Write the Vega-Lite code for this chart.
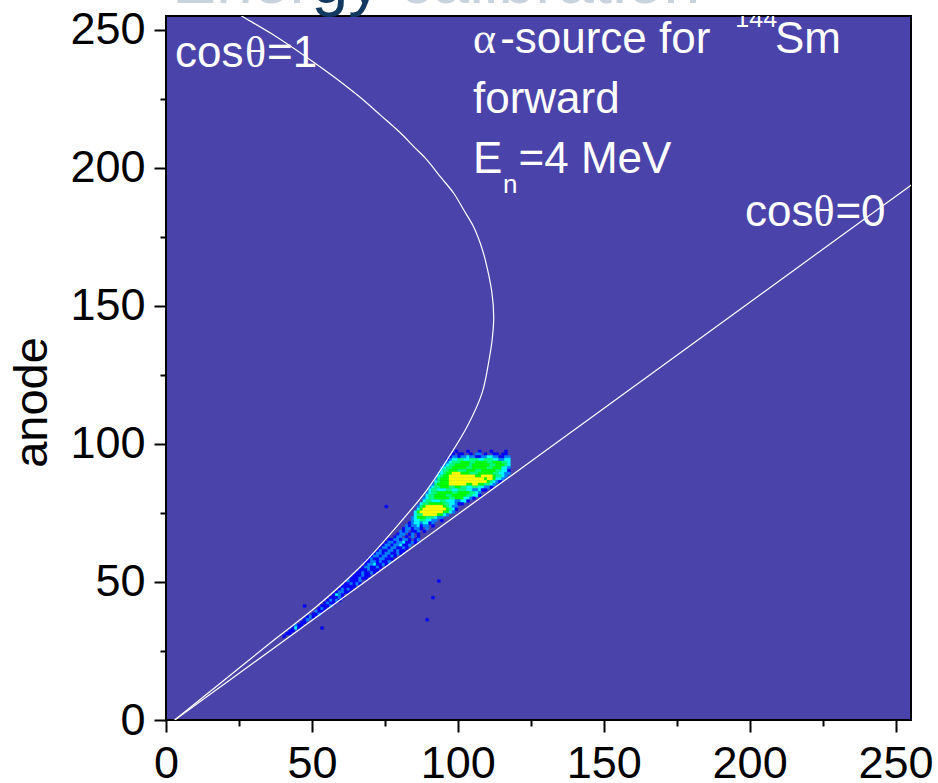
{
  "$schema": "https://vega.github.io/schema/vega-lite/v6.json",
  "width": 745,
  "height": 704,
  "autosize": "none",
  "padding": {"left": 166, "top": 16, "right": 27, "bottom": 63},
  "background": "white",
  "config": {
    "view": {"fill": "#4A43A9", "stroke": "#000000", "strokeWidth": 2},
    "font": "Liberation Sans"
  },
  "datasets": {
    "hist": [
      {"x":99,"x2":100,"y":97,"c":1},{"x":103,"x2":104,"y":97,"c":1},{"x":107,"x2":108,"y":97,"c":1},{"x":111,"x2":112,"y":97,"c":1},{"x":116,"x2":117,"y":97,"c":1},
      {"x":98,"x2":99,"y":96,"c":1},{"x":100,"x2":102,"y":96,"c":1},{"x":104,"x2":105,"y":96,"c":1},{"x":106,"x2":108,"y":96,"c":2},{"x":109,"x2":110,"y":96,"c":1},{"x":112,"x2":114,"y":96,"c":1},{"x":115,"x2":117,"y":96,"c":1},
      {"x":97,"x2":98,"y":95,"c":1},{"x":98,"x2":100,"y":95,"c":2},{"x":100,"x2":101,"y":95,"c":1},{"x":101,"x2":103,"y":95,"c":2},{"x":103,"x2":104,"y":95,"c":3},{"x":104,"x2":106,"y":95,"c":2},{"x":106,"x2":108,"y":95,"c":1},{"x":108,"x2":110,"y":95,"c":2},{"x":110,"x2":112,"y":95,"c":3},{"x":112,"x2":114,"y":95,"c":2},{"x":114,"x2":116,"y":95,"c":1},{"x":116,"x2":118,"y":95,"c":2},
      {"x":96,"x2":97,"y":94,"c":1},{"x":97,"x2":98,"y":94,"c":2},{"x":98,"x2":100,"y":94,"c":3},{"x":100,"x2":102,"y":94,"c":4},{"x":102,"x2":104,"y":94,"c":3},{"x":104,"x2":107,"y":94,"c":4},{"x":107,"x2":109,"y":94,"c":3},{"x":109,"x2":112,"y":94,"c":4},{"x":112,"x2":114,"y":94,"c":3},{"x":114,"x2":116,"y":94,"c":2},{"x":116,"x2":118,"y":94,"c":3},
      {"x":96,"x2":97,"y":93,"c":2},{"x":97,"x2":98,"y":93,"c":3},{"x":98,"x2":101,"y":93,"c":4},{"x":101,"x2":104,"y":93,"c":5},{"x":104,"x2":106,"y":93,"c":4},{"x":106,"x2":110,"y":93,"c":5},{"x":110,"x2":112,"y":93,"c":4},{"x":112,"x2":115,"y":93,"c":5},{"x":115,"x2":117,"y":93,"c":4},{"x":117,"x2":118,"y":93,"c":3},
      {"x":95,"x2":96,"y":92,"c":2},{"x":96,"x2":97,"y":92,"c":3},{"x":97,"x2":99,"y":92,"c":4},{"x":99,"x2":104,"y":92,"c":5},{"x":104,"x2":105,"y":92,"c":4},{"x":105,"x2":111,"y":92,"c":5},{"x":111,"x2":113,"y":92,"c":4},{"x":113,"x2":116,"y":92,"c":5},{"x":116,"x2":117,"y":92,"c":4},{"x":117,"x2":118,"y":92,"c":3},
      {"x":94,"x2":95,"y":91,"c":2},{"x":95,"x2":96,"y":91,"c":3},{"x":96,"x2":98,"y":91,"c":4},{"x":98,"x2":103,"y":91,"c":5},{"x":103,"x2":105,"y":91,"c":4},{"x":105,"x2":110,"y":91,"c":5},{"x":110,"x2":112,"y":91,"c":4},{"x":112,"x2":115,"y":91,"c":5},{"x":115,"x2":117,"y":91,"c":3},{"x":117,"x2":118,"y":91,"c":2},
      {"x":94,"x2":95,"y":90,"c":3},{"x":95,"x2":97,"y":90,"c":4},{"x":97,"x2":100,"y":90,"c":5},{"x":100,"x2":103,"y":90,"c":4},{"x":103,"x2":106,"y":90,"c":5},{"x":106,"x2":108,"y":90,"c":4},{"x":108,"x2":113,"y":90,"c":5},{"x":113,"x2":115,"y":90,"c":4},{"x":115,"x2":117,"y":90,"c":3},{"x":117,"x2":118,"y":90,"c":1},
      {"x":93,"x2":94,"y":89,"c":2},{"x":94,"x2":95,"y":89,"c":3},{"x":95,"x2":96,"y":89,"c":4},{"x":96,"x2":98,"y":89,"c":5},{"x":98,"x2":101,"y":89,"c":6},{"x":101,"x2":104,"y":89,"c":5},{"x":104,"x2":107,"y":89,"c":4},{"x":107,"x2":112,"y":89,"c":5},{"x":112,"x2":114,"y":89,"c":4},{"x":114,"x2":116,"y":89,"c":3},{"x":116,"x2":118,"y":89,"c":2},
      {"x":93,"x2":94,"y":88,"c":3},{"x":94,"x2":95,"y":88,"c":4},{"x":95,"x2":97,"y":88,"c":5},{"x":97,"x2":106,"y":88,"c":6},{"x":106,"x2":108,"y":88,"c":5},{"x":108,"x2":112,"y":88,"c":6},{"x":112,"x2":113,"y":88,"c":5},{"x":113,"x2":115,"y":88,"c":4},{"x":115,"x2":116,"y":88,"c":3},{"x":116,"x2":117,"y":88,"c":2},
      {"x":92,"x2":93,"y":87,"c":2},{"x":93,"x2":94,"y":87,"c":4},{"x":94,"x2":97,"y":87,"c":5},{"x":97,"x2":109,"y":87,"c":6},{"x":109,"x2":110,"y":87,"c":5},{"x":110,"x2":112,"y":87,"c":6},{"x":112,"x2":113,"y":87,"c":5},{"x":113,"x2":115,"y":87,"c":3},{"x":115,"x2":116,"y":87,"c":2},
      {"x":92,"x2":93,"y":86,"c":3},{"x":93,"x2":94,"y":86,"c":4},{"x":94,"x2":97,"y":86,"c":5},{"x":97,"x2":110,"y":86,"c":6},{"x":110,"x2":111,"y":86,"c":5},{"x":111,"x2":112,"y":86,"c":4},{"x":112,"x2":113,"y":86,"c":3},{"x":113,"x2":114,"y":86,"c":2},{"x":114,"x2":115,"y":86,"c":1},
      {"x":91,"x2":92,"y":85,"c":2},{"x":92,"x2":93,"y":85,"c":4},{"x":93,"x2":97,"y":85,"c":5},{"x":97,"x2":103,"y":85,"c":6},{"x":103,"x2":105,"y":85,"c":5},{"x":105,"x2":107,"y":85,"c":6},{"x":107,"x2":109,"y":85,"c":5},{"x":109,"x2":111,"y":85,"c":4},{"x":111,"x2":112,"y":85,"c":3},{"x":112,"x2":113,"y":85,"c":2},
      {"x":90,"x2":91,"y":84,"c":2},{"x":91,"x2":92,"y":84,"c":3},{"x":92,"x2":94,"y":84,"c":4},{"x":94,"x2":97,"y":84,"c":5},{"x":97,"x2":99,"y":84,"c":4},{"x":99,"x2":101,"y":84,"c":5},{"x":101,"x2":103,"y":84,"c":4},{"x":103,"x2":105,"y":84,"c":3},{"x":105,"x2":107,"y":84,"c":4},{"x":107,"x2":109,"y":84,"c":3},{"x":109,"x2":111,"y":84,"c":2},{"x":111,"x2":112,"y":84,"c":1},
      {"x":90,"x2":91,"y":83,"c":3},{"x":91,"x2":93,"y":83,"c":4},{"x":93,"x2":96,"y":83,"c":3},{"x":96,"x2":98,"y":83,"c":4},{"x":98,"x2":100,"y":83,"c":3},{"x":100,"x2":103,"y":83,"c":4},{"x":103,"x2":105,"y":83,"c":3},{"x":105,"x2":107,"y":83,"c":2},{"x":107,"x2":108,"y":83,"c":3},{"x":108,"x2":110,"y":83,"c":1},
      {"x":89,"x2":90,"y":82,"c":2},{"x":90,"x2":91,"y":82,"c":3},{"x":91,"x2":93,"y":82,"c":4},{"x":93,"x2":98,"y":82,"c":5},{"x":98,"x2":100,"y":82,"c":4},{"x":100,"x2":104,"y":82,"c":5},{"x":104,"x2":106,"y":82,"c":4},{"x":106,"x2":107,"y":82,"c":3},{"x":107,"x2":108,"y":82,"c":2},
      {"x":89,"x2":90,"y":81,"c":3},{"x":90,"x2":92,"y":81,"c":4},{"x":92,"x2":96,"y":81,"c":5},{"x":96,"x2":98,"y":81,"c":4},{"x":98,"x2":103,"y":81,"c":5},{"x":103,"x2":105,"y":81,"c":4},{"x":105,"x2":107,"y":81,"c":3},{"x":107,"x2":108,"y":81,"c":1},
      {"x":88,"x2":89,"y":80,"c":2},{"x":89,"x2":90,"y":80,"c":3},{"x":90,"x2":92,"y":80,"c":4},{"x":92,"x2":97,"y":80,"c":5},{"x":97,"x2":99,"y":80,"c":4},{"x":99,"x2":102,"y":80,"c":5},{"x":102,"x2":104,"y":80,"c":3},{"x":104,"x2":105,"y":80,"c":2},{"x":105,"x2":106,"y":80,"c":1},
      {"x":88,"x2":89,"y":79,"c":3},{"x":89,"x2":91,"y":79,"c":4},{"x":91,"x2":94,"y":79,"c":3},{"x":94,"x2":96,"y":79,"c":4},{"x":96,"x2":99,"y":79,"c":3},{"x":99,"x2":101,"y":79,"c":2},{"x":101,"x2":103,"y":79,"c":3},{"x":103,"x2":104,"y":79,"c":1},
      {"x":87,"x2":88,"y":78,"c":3},{"x":88,"x2":90,"y":78,"c":4},{"x":90,"x2":95,"y":78,"c":5},{"x":95,"x2":97,"y":78,"c":4},{"x":97,"x2":99,"y":78,"c":3},{"x":99,"x2":100,"y":78,"c":2},{"x":100,"x2":102,"y":78,"c":1},
      {"x":86,"x2":87,"y":77,"c":2},{"x":87,"x2":88,"y":77,"c":4},{"x":88,"x2":89,"y":77,"c":5},{"x":89,"x2":95,"y":77,"c":6},{"x":95,"x2":96,"y":77,"c":5},{"x":96,"x2":97,"y":77,"c":4},{"x":97,"x2":98,"y":77,"c":3},{"x":98,"x2":100,"y":77,"c":2},
      {"x":86,"x2":87,"y":76,"c":3},{"x":87,"x2":88,"y":76,"c":5},{"x":88,"x2":96,"y":76,"c":6},{"x":96,"x2":97,"y":76,"c":5},{"x":97,"x2":98,"y":76,"c":4},{"x":98,"x2":99,"y":76,"c":3},{"x":99,"x2":100,"y":76,"c":1},
      {"x":85,"x2":86,"y":75,"c":3},{"x":86,"x2":87,"y":75,"c":5},{"x":87,"x2":95,"y":75,"c":6},{"x":95,"x2":97,"y":75,"c":5},{"x":97,"x2":98,"y":75,"c":3},{"x":98,"x2":99,"y":75,"c":2},
      {"x":85,"x2":86,"y":74,"c":3},{"x":86,"x2":88,"y":74,"c":4},{"x":88,"x2":93,"y":74,"c":6},{"x":93,"x2":95,"y":74,"c":5},{"x":95,"x2":96,"y":74,"c":3},{"x":96,"x2":97,"y":74,"c":2},
      {"x":84,"x2":85,"y":73,"c":2},{"x":85,"x2":86,"y":73,"c":3},{"x":86,"x2":89,"y":73,"c":5},{"x":89,"x2":92,"y":73,"c":4},{"x":92,"x2":93,"y":73,"c":3},{"x":93,"x2":95,"y":73,"c":2},
      {"x":84,"x2":85,"y":72,"c":2},{"x":85,"x2":87,"y":72,"c":3},{"x":87,"x2":89,"y":72,"c":4},{"x":89,"x2":91,"y":72,"c":3},{"x":91,"x2":93,"y":72,"c":2},{"x":94,"x2":95,"y":72,"c":1},
      {"x":83,"x2":84,"y":71,"c":1},{"x":84,"x2":85,"y":71,"c":2},{"x":85,"x2":87,"y":71,"c":3},{"x":87,"x2":88,"y":71,"c":2},{"x":88,"x2":90,"y":71,"c":3},{"x":90,"x2":91,"y":71,"c":1},{"x":91,"x2":92,"y":71,"c":2},
      {"x":82,"x2":83,"y":70,"c":2},{"x":83,"x2":84,"y":70,"c":1},{"x":84,"x2":86,"y":70,"c":2},{"x":86,"x2":87,"y":70,"c":3},{"x":87,"x2":88,"y":70,"c":1},{"x":88,"x2":90,"y":70,"c":2},{"x":91,"x2":92,"y":70,"c":1},
      {"x":81,"x2":82,"y":69,"c":1},{"x":82,"x2":84,"y":69,"c":2},{"x":84,"x2":85,"y":69,"c":1},{"x":85,"x2":87,"y":69,"c":2},{"x":87,"x2":88,"y":69,"c":1},{"x":89,"x2":90,"y":69,"c":2},
      {"x":80,"x2":81,"y":68,"c":2},{"x":81,"x2":82,"y":68,"c":1},{"x":82,"x2":83,"y":68,"c":2},{"x":84,"x2":86,"y":68,"c":1},{"x":86,"x2":87,"y":68,"c":2},{"x":88,"x2":89,"y":68,"c":1},
      {"x":79,"x2":80,"y":67,"c":1},{"x":80,"x2":82,"y":67,"c":2},{"x":83,"x2":84,"y":67,"c":1},{"x":84,"x2":85,"y":67,"c":2},{"x":86,"x2":87,"y":67,"c":1},
      {"x":78,"x2":79,"y":66,"c":1},{"x":79,"x2":81,"y":66,"c":2},{"x":82,"x2":83,"y":66,"c":1},{"x":84,"x2":85,"y":66,"c":2},{"x":86,"x2":87,"y":66,"c":1},
      {"x":76,"x2":78,"y":65,"c":1},{"x":78,"x2":80,"y":65,"c":2},{"x":80,"x2":81,"y":65,"c":1},{"x":81,"x2":83,"y":65,"c":2},{"x":83,"x2":84,"y":65,"c":1},{"x":85,"x2":86,"y":65,"c":1},{"x":86,"x2":87,"y":65,"c":2},
      {"x":75,"x2":76,"y":64,"c":1},{"x":76,"x2":78,"y":64,"c":2},{"x":78,"x2":79,"y":64,"c":1},{"x":79,"x2":81,"y":64,"c":2},{"x":81,"x2":82,"y":64,"c":3},{"x":82,"x2":84,"y":64,"c":1},{"x":84,"x2":85,"y":64,"c":2},{"x":85,"x2":86,"y":64,"c":1},
      {"x":74,"x2":75,"y":63,"c":1},{"x":75,"x2":77,"y":63,"c":2},{"x":77,"x2":78,"y":63,"c":1},{"x":78,"x2":80,"y":63,"c":2},{"x":80,"x2":81,"y":63,"c":3},{"x":81,"x2":83,"y":63,"c":1},{"x":83,"x2":84,"y":63,"c":2},
      {"x":73,"x2":74,"y":62,"c":1},{"x":74,"x2":76,"y":62,"c":2},{"x":76,"x2":77,"y":62,"c":1},{"x":77,"x2":79,"y":62,"c":2},{"x":79,"x2":81,"y":62,"c":1},{"x":81,"x2":82,"y":62,"c":2},{"x":82,"x2":83,"y":62,"c":1},
      {"x":72,"x2":73,"y":61,"c":1},{"x":73,"x2":74,"y":61,"c":2},{"x":74,"x2":76,"y":61,"c":1},{"x":76,"x2":78,"y":61,"c":2},{"x":78,"x2":79,"y":61,"c":1},{"x":79,"x2":80,"y":61,"c":2},{"x":80,"x2":82,"y":61,"c":1},
      {"x":71,"x2":72,"y":60,"c":1},{"x":72,"x2":74,"y":60,"c":2},{"x":74,"x2":75,"y":60,"c":1},{"x":75,"x2":77,"y":60,"c":2},{"x":77,"x2":79,"y":60,"c":1},{"x":79,"x2":80,"y":60,"c":2},{"x":80,"x2":81,"y":60,"c":1},
      {"x":70,"x2":71,"y":59,"c":1},{"x":71,"x2":73,"y":59,"c":2},{"x":73,"x2":74,"y":59,"c":1},{"x":74,"x2":76,"y":59,"c":2},{"x":76,"x2":77,"y":59,"c":1},{"x":77,"x2":78,"y":59,"c":2},{"x":78,"x2":79,"y":59,"c":1},
      {"x":69,"x2":70,"y":58,"c":1},{"x":70,"x2":71,"y":58,"c":2},{"x":71,"x2":73,"y":58,"c":1},{"x":73,"x2":75,"y":58,"c":2},{"x":75,"x2":78,"y":58,"c":1},
      {"x":68,"x2":70,"y":57,"c":1},{"x":70,"x2":72,"y":57,"c":2},{"x":72,"x2":73,"y":57,"c":1},{"x":73,"x2":74,"y":57,"c":2},{"x":74,"x2":76,"y":57,"c":1},{"x":76,"x2":77,"y":57,"c":2},
      {"x":68,"x2":69,"y":56,"c":1},{"x":69,"x2":71,"y":56,"c":2},{"x":71,"x2":72,"y":56,"c":3},{"x":72,"x2":74,"y":56,"c":1},{"x":74,"x2":75,"y":56,"c":2},{"x":75,"x2":76,"y":56,"c":1},
      {"x":67,"x2":68,"y":55,"c":1},{"x":68,"x2":70,"y":55,"c":2},{"x":70,"x2":72,"y":55,"c":1},{"x":72,"x2":73,"y":55,"c":2},{"x":73,"x2":74,"y":55,"c":1},
      {"x":66,"x2":69,"y":54,"c":1},{"x":69,"x2":70,"y":54,"c":2},{"x":70,"x2":73,"y":54,"c":1},
      {"x":65,"x2":67,"y":53,"c":1},{"x":67,"x2":68,"y":53,"c":2},{"x":68,"x2":70,"y":53,"c":1},{"x":70,"x2":71,"y":53,"c":2},{"x":71,"x2":72,"y":53,"c":1},
      {"x":64,"x2":67,"y":52,"c":1},{"x":67,"x2":68,"y":52,"c":2},{"x":68,"x2":70,"y":52,"c":1},
      {"x":63,"x2":66,"y":51,"c":1},{"x":66,"x2":67,"y":51,"c":2},{"x":67,"x2":69,"y":51,"c":1},
      {"x":62,"x2":63,"y":50,"c":2},{"x":63,"x2":66,"y":50,"c":1},{"x":66,"x2":67,"y":50,"c":2},{"x":93,"x2":94,"y":50,"c":1},
      {"x":61,"x2":63,"y":49,"c":1},{"x":63,"x2":64,"y":49,"c":2},{"x":64,"x2":65,"y":49,"c":1},{"x":65,"x2":66,"y":49,"c":2},{"x":66,"x2":67,"y":49,"c":1},
      {"x":60,"x2":65,"y":48,"c":1},
      {"x":59,"x2":60,"y":47,"c":1},{"x":60,"x2":61,"y":47,"c":2},{"x":61,"x2":62,"y":47,"c":1},{"x":62,"x2":63,"y":47,"c":2},{"x":63,"x2":64,"y":47,"c":1},
      {"x":58,"x2":59,"y":46,"c":1},{"x":59,"x2":61,"y":46,"c":2},{"x":61,"x2":63,"y":46,"c":1},
      {"x":57,"x2":58,"y":45,"c":1},{"x":58,"x2":59,"y":45,"c":3},{"x":59,"x2":60,"y":45,"c":2},{"x":60,"x2":61,"y":45,"c":1},
      {"x":56,"x2":59,"y":44,"c":1},{"x":59,"x2":60,"y":44,"c":2},{"x":60,"x2":61,"y":44,"c":1},{"x":91,"x2":92,"y":44,"c":1},
      {"x":55,"x2":56,"y":43,"c":1},{"x":56,"x2":57,"y":43,"c":2},{"x":57,"x2":58,"y":43,"c":1},{"x":58,"x2":59,"y":43,"c":2},{"x":59,"x2":60,"y":43,"c":1},
      {"x":54,"x2":55,"y":42,"c":1},{"x":55,"x2":56,"y":42,"c":2},{"x":56,"x2":58,"y":42,"c":1},
      {"x":53,"x2":56,"y":41,"c":1},{"x":56,"x2":57,"y":41,"c":2},{"x":47,"x2":48,"y":41,"c":1},
      {"x":52,"x2":53,"y":40,"c":1},{"x":53,"x2":54,"y":40,"c":2},{"x":54,"x2":55,"y":40,"c":1},
      {"x":51,"x2":52,"y":39,"c":2},{"x":52,"x2":54,"y":39,"c":1},
      {"x":50,"x2":52,"y":38,"c":1},{"x":52,"x2":53,"y":38,"c":2},
      {"x":48,"x2":49,"y":37,"c":1},{"x":49,"x2":50,"y":37,"c":2},{"x":50,"x2":51,"y":37,"c":1},
      {"x":47,"x2":48,"y":36,"c":1},{"x":48,"x2":49,"y":36,"c":2},{"x":89,"x2":90,"y":36,"c":1},
      {"x":46,"x2":48,"y":35,"c":1},
      {"x":44,"x2":45,"y":34,"c":2},{"x":45,"x2":47,"y":34,"c":1},
      {"x":43,"x2":44,"y":33,"c":1},{"x":44,"x2":45,"y":33,"c":3},{"x":45,"x2":46,"y":33,"c":1},{"x":53,"x2":54,"y":33,"c":1},
      {"x":42,"x2":44,"y":32,"c":1},
      {"x":41,"x2":43,"y":31,"c":1},
      {"x":40,"x2":41,"y":30,"c":1},
      {"x":75,"x2":76,"y":77,"c":1}
    ],
    "guides": [
      {"g":"cos1","x":24.0,"y":256.2},{"g":"cos1","x":27.2,"y":254.2},{"g":"cos1","x":35.8,"y":248.8},{"g":"cos1","x":49.5,"y":239.1},
      {"g":"cos1","x":57.4,"y":233.1},{"g":"cos1","x":66.0,"y":226.0},{"g":"cos1","x":73.4,"y":219.2},{"g":"cos1","x":80.3,"y":212.7},
      {"g":"cos1","x":84.9,"y":207.7},{"g":"cos1","x":89.4,"y":202.9},{"g":"cos1","x":94.0,"y":196.8},{"g":"cos1","x":98.6,"y":190.8},
      {"g":"cos1","x":102.0,"y":184.8},{"g":"cos1","x":105.4,"y":178.7},{"g":"cos1","x":107.7,"y":172.7},{"g":"cos1","x":109.4,"y":166.7},
      {"g":"cos1","x":111.7,"y":154.7},{"g":"cos1","x":112.3,"y":146.1},{"g":"cos1","x":111.8,"y":138.0},{"g":"cos1","x":110.7,"y":130.4},
      {"g":"cos1","x":108.3,"y":118.4},{"g":"cos1","x":103.2,"y":106.3},{"g":"cos1","x":96.3,"y":94.2},{"g":"cos1","x":89.4,"y":83.3},
      {"g":"cos1","x":78.0,"y":68.8},{"g":"cos1","x":66.6,"y":55.5},{"g":"cos1","x":51.5,"y":41.0},{"g":"cos1","x":37.0,"y":29.0},
      {"g":"cos1","x":20.0,"y":14.5},{"g":"cos1","x":3.0,"y":0.0},
      {"g":"cos0","x":3.0,"y":0.0},{"g":"cos0","x":258.0,"y":195.8}
    ]
  },
  "layer": [
    {
      "data": {"name": "hist"},
      "mark": {"type": "rect", "strokeWidth": 0.4},
      "encoding": {
        "x": {
          "field": "x", "type": "quantitative",
          "scale": {"domain": [0, 255.3], "nice": false, "zero": false},
          "axis": {
            "orient": "bottom", "values": [0, 50, 100, 150, 200, 250], "format": "d", "title": null,
            "domain": false, "grid": false, "tickSize": 12, "tickWidth": 2, "tickColor": "#000000",
            "labelFontSize": 45, "labelFont": "Liberation Sans", "labelColor": "#000000",
            "labelPadding": 9, "labelFlush": false, "labelOverlap": false, "labelBound": false
          }
        },
        "x2": {"field": "x2"},
        "y": {
          "field": "y", "type": "quantitative",
          "bin": {"step": 1, "extent": [0, 256]},
          "scale": {"domain": [0, 255], "nice": false, "zero": false},
          "axis": {
            "orient": "left", "values": [0, 50, 100, 150, 200, 250], "format": "d",
            "title": "anode", "titleFontSize": 47, "titleFont": "Liberation Sans", "titleFontWeight": "normal",
            "titleColor": "#000000", "titleAngle": -90, "titleX": -120, "titleY": 386,
            "titleAlign": "center", "titleBaseline": "alphabetic",
            "domain": false, "grid": false, "tickSize": 12, "tickWidth": 2, "tickColor": "#000000",
            "labelFontSize": 45, "labelFont": "Liberation Sans", "labelColor": "#000000",
            "labelPadding": 9, "labelFlush": false, "labelOverlap": false, "labelBound": false
          }
        },
        "color": {
          "field": "c", "type": "ordinal",
          "scale": {"domain": [1, 2, 3, 4, 5, 6], "range": ["#0000FF", "#0080FF", "#00FFFF", "#00FF80", "#00FF00", "#FFFF00"]},
          "legend": null
        },
        "stroke": {
          "field": "c", "type": "ordinal",
          "scale": {"domain": [1, 2, 3, 4, 5, 6], "range": ["#0000FF", "#0080FF", "#00FFFF", "#00FF80", "#00FF00", "#FFFF00"]},
          "legend": null
        }
      }
    },
    {
      "data": {"name": "guides"},
      "mark": {"type": "line", "color": "#FFFFFF", "strokeWidth": 1.2, "clip": true, "interpolate": "catmull-rom"},
      "encoding": {
        "x": {
          "field": "x", "type": "quantitative",
          "axis": {"orient": "bottom", "values": [25, 75, 125, 175, 225], "labels": false, "domain": false, "grid": false,
                   "tickSize": 6, "tickWidth": 2, "tickColor": "#000000", "title": null}
        },
        "y": {
          "field": "y", "type": "quantitative",
          "axis": {"orient": "left", "values": [25, 75, 125, 175, 225], "labels": false, "domain": false, "grid": false,
                   "tickSize": 6, "tickWidth": 2, "tickColor": "#000000", "title": null}
        },
        "detail": {"field": "g"},
        "order": {"value": null}
      }
    },
    {
      "data": {"values": [{"t": "cos"}]},
      "mark": {"type": "text", "align": "left", "baseline": "alphabetic", "fontSize": 44, "font": "Liberation Sans", "color": "#FFFFFF"},
      "encoding": {
        "x": {"datum": 3.1, "type": "quantitative", "axis": null},
        "y": {"datum": 236.7, "type": "quantitative", "axis": null},
        "text": {"field": "t"}
      }
    },
    {
      "data": {"values": [{"t": "θ"}]},
      "mark": {"type": "text", "align": "left", "baseline": "alphabetic", "fontSize": 44, "font": "Liberation Serif", "color": "#FFFFFF"},
      "encoding": {
        "x": {"datum": 27.1, "type": "quantitative", "axis": null},
        "y": {"datum": 236.7, "type": "quantitative", "axis": null},
        "text": {"field": "t"}
      }
    },
    {
      "data": {"values": [{"t": "=1"}]},
      "mark": {"type": "text", "align": "left", "baseline": "alphabetic", "fontSize": 44, "font": "Liberation Sans", "color": "#FFFFFF"},
      "encoding": {
        "x": {"datum": 34.6, "type": "quantitative", "axis": null},
        "y": {"datum": 236.7, "type": "quantitative", "axis": null},
        "text": {"field": "t"}
      }
    },
    {
      "data": {"values": [{"t": "cos"}]},
      "mark": {"type": "text", "align": "left", "baseline": "alphabetic", "fontSize": 44, "font": "Liberation Sans", "color": "#FFFFFF"},
      "encoding": {
        "x": {"datum": 198.4, "type": "quantitative", "axis": null},
        "y": {"datum": 179, "type": "quantitative", "axis": null},
        "text": {"field": "t"}
      }
    },
    {
      "data": {"values": [{"t": "θ"}]},
      "mark": {"type": "text", "align": "left", "baseline": "alphabetic", "fontSize": 44, "font": "Liberation Serif", "color": "#FFFFFF"},
      "encoding": {
        "x": {"datum": 221.9, "type": "quantitative", "axis": null},
        "y": {"datum": 179, "type": "quantitative", "axis": null},
        "text": {"field": "t"}
      }
    },
    {
      "data": {"values": [{"t": "=0"}]},
      "mark": {"type": "text", "align": "left", "baseline": "alphabetic", "fontSize": 44, "font": "Liberation Sans", "color": "#FFFFFF"},
      "encoding": {
        "x": {"datum": 229.4, "type": "quantitative", "axis": null},
        "y": {"datum": 179, "type": "quantitative", "axis": null},
        "text": {"field": "t"}
      }
    },
    {
      "data": {"values": [{"t": "α"}]},
      "mark": {"type": "text", "align": "left", "baseline": "alphabetic", "fontSize": 44, "font": "Liberation Serif", "color": "#FFFFFF"},
      "encoding": {
        "x": {"datum": 105.2, "type": "quantitative", "axis": null},
        "y": {"datum": 241.6, "type": "quantitative", "axis": null},
        "text": {"field": "t"}
      }
    },
    {
      "data": {"values": [{"t": "-source for"}]},
      "mark": {"type": "text", "align": "left", "baseline": "alphabetic", "fontSize": 44, "font": "Liberation Sans", "color": "#FFFFFF"},
      "encoding": {
        "x": {"datum": 114.5, "type": "quantitative", "axis": null},
        "y": {"datum": 241.6, "type": "quantitative", "axis": null},
        "text": {"field": "t"}
      }
    },
    {
      "data": {"values": [{"t": "144"}]},
      "mark": {"type": "text", "align": "left", "baseline": "alphabetic", "fontSize": 25, "font": "Liberation Sans", "color": "#FFFFFF", "clip": true},
      "encoding": {
        "x": {"datum": 195.1, "type": "quantitative", "axis": null},
        "y": {"datum": 251.1, "type": "quantitative", "axis": null},
        "text": {"field": "t"}
      }
    },
    {
      "data": {"values": [{"t": "Sm"}]},
      "mark": {"type": "text", "align": "left", "baseline": "alphabetic", "fontSize": 44, "font": "Liberation Sans", "color": "#FFFFFF"},
      "encoding": {
        "x": {"datum": 208.7, "type": "quantitative", "axis": null},
        "y": {"datum": 241.6, "type": "quantitative", "axis": null},
        "text": {"field": "t"}
      }
    },
    {
      "data": {"values": [{"t": "forward"}]},
      "mark": {"type": "text", "align": "left", "baseline": "alphabetic", "fontSize": 44, "font": "Liberation Sans", "color": "#FFFFFF"},
      "encoding": {
        "x": {"datum": 105.2, "type": "quantitative", "axis": null},
        "y": {"datum": 219.8, "type": "quantitative", "axis": null},
        "text": {"field": "t"}
      }
    },
    {
      "data": {"values": [{"t": "E"}]},
      "mark": {"type": "text", "align": "left", "baseline": "alphabetic", "fontSize": 44, "font": "Liberation Sans", "color": "#FFFFFF"},
      "encoding": {
        "x": {"datum": 105.2, "type": "quantitative", "axis": null},
        "y": {"datum": 198.1, "type": "quantitative", "axis": null},
        "text": {"field": "t"}
      }
    },
    {
      "data": {"values": [{"t": "n"}]},
      "mark": {"type": "text", "align": "left", "baseline": "alphabetic", "fontSize": 26, "font": "Liberation Sans", "color": "#FFFFFF"},
      "encoding": {
        "x": {"datum": 115.5, "type": "quantitative", "axis": null},
        "y": {"datum": 190.8, "type": "quantitative", "axis": null},
        "text": {"field": "t"}
      }
    },
    {
      "data": {"values": [{"t": "=4 MeV"}]},
      "mark": {"type": "text", "align": "left", "baseline": "alphabetic", "fontSize": 44, "font": "Liberation Sans", "color": "#FFFFFF"},
      "encoding": {
        "x": {"datum": 120.8, "type": "quantitative", "axis": null},
        "y": {"datum": 198.1, "type": "quantitative", "axis": null},
        "text": {"field": "t"}
      }
    },
    {
      "data": {"values": [{"t": "Ener"}]},
      "mark": {"type": "text", "align": "left", "baseline": "alphabetic", "fontSize": 66, "font": "Liberation Sans", "color": "#C9D3DD"},
      "encoding": {
        "x": {"datum": 2.06, "type": "quantitative", "axis": null},
        "y": {"datum": 259.8, "type": "quantitative", "axis": null},
        "text": {"field": "t"}
      }
    },
    {
      "data": {"values": [{"t": "gy"}]},
      "mark": {"type": "text", "align": "left", "baseline": "alphabetic", "fontSize": 66, "font": "Liberation Sans", "color": "#12395F"},
      "encoding": {
        "x": {"datum": 49.9, "type": "quantitative", "axis": null},
        "y": {"datum": 259.8, "type": "quantitative", "axis": null},
        "text": {"field": "t"}
      }
    },
    {
      "data": {"values": [{"t": "calibration"}]},
      "mark": {"type": "text", "align": "left", "baseline": "alphabetic", "fontSize": 66, "font": "Liberation Sans", "color": "#C9D3DD"},
      "encoding": {
        "x": {"datum": 80.0, "type": "quantitative", "axis": null},
        "y": {"datum": 259.8, "type": "quantitative", "axis": null},
        "text": {"field": "t"}
      }
    }
  ],
  "resolve": {"axis": {"x": "independent", "y": "independent"}}
}
